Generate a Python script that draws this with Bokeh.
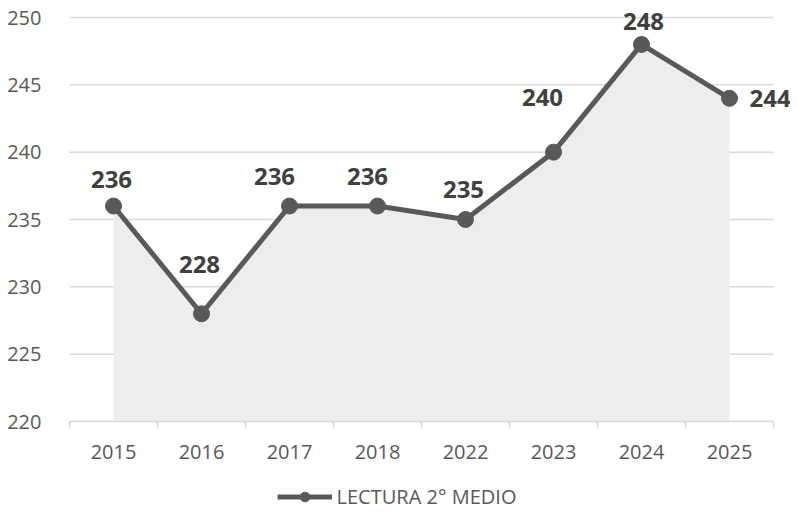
from bokeh.plotting import figure
from bokeh.layouts import column
from bokeh.models import FixedTicker, Legend, LegendItem, ColumnDataSource, Range1d, LabelSet
from bokeh.embed import file_html
from bokeh.resources import INLINE
from bokeh.core.properties import value

years = ["2015", "2016", "2017", "2018", "2022", "2023", "2024", "2025"]
scores = [236, 228, 236, 236, 235, 240, 248, 244]
series_name = "LECTURA 2° MEDIO"
y_ticks = [220, 225, 230, 235, 240, 245, 250]

# label placement (style only, screen pixels)
label_dx = [-2, -2, -15, -10, -2, -11, 2, 20]
label_dy = [27, 49, 30, 30, 30, 55, 23, 0]

FONT = "Open Sans"
GREY = "#595959"

n = len(years)
xs = list(range(n))
src = ColumnDataSource(dict(x=xs, y=scores))

PX_X = 88.0
PX_Y = 404.0 / 30.0
frame_w = 721
frame_h = 421
x_end = -0.5 + frame_w / PX_X
y_end = 250 + 17 / PX_Y

p = figure(frame_width=frame_w, frame_height=frame_h, output_backend="svg", toolbar_location=None,
           x_range=Range1d(-0.5, x_end), y_range=Range1d(220, y_end))
p.outline_line_color = None
p.min_border_left = 69
p.min_border_right = 0
p.min_border_top = 0
p.min_border_bottom = 58
p.background_fill_color = "white"
p.xgrid.visible = False
p.ygrid.visible = False

# horizontal gridlines across the category span
p.segment(x0=-0.5, x1=n - 0.5, y0=y_ticks, y1=y_ticks, line_color="#d9d9d9", line_width=1.5)

# area
p.varea(x="x", y1=220, y2="y", source=src, fill_color="#ededed")

line = p.line(x="x", y="y", source=src, line_color=GREY, line_width=5)
pts = p.scatter(x="x", y="y", source=src, size=16, fill_color=GREY, line_color=GREY)

# value labels
main = ColumnDataSource(dict(x=xs[:-1], y=scores[:-1], lab=[str(s) for s in scores[:-1]],
                             dx=label_dx[:-1], dy=label_dy[:-1]))
last = ColumnDataSource(dict(x=xs[-1:], y=scores[-1:], lab=[str(s) for s in scores[-1:]],
                             dx=label_dx[-1:], dy=label_dy[-1:]))
p.add_layout(LabelSet(x="x", y="y", text="lab", source=main, text_align="center",
                      text_baseline="middle", x_offset="dx", y_offset="dy", text_font=value(FONT),
                      text_font_style="bold", text_font_size="24px", text_color="#404040"))
p.add_layout(LabelSet(x="x", y="y", text="lab", source=last, text_align="left",
                      text_baseline="middle", x_offset="dx", y_offset="dy", text_font=value(FONT),
                      text_font_style="bold", text_font_size="24px", text_color="#404040"))

# y axis
p.yaxis.ticker = FixedTicker(ticks=y_ticks)
p.yaxis.axis_line_color = None
p.yaxis.major_tick_line_color = None
p.yaxis.minor_tick_line_color = None
p.yaxis.major_label_text_font = FONT
p.yaxis.major_label_text_font_size = "20px"
p.yaxis.major_label_text_color = GREY
p.yaxis.major_label_standoff = 22

# x axis
p.xaxis.bounds = (-0.5, n - 0.5)
p.xaxis.ticker = FixedTicker(ticks=xs, minor_ticks=[i - 0.5 for i in range(n + 1)])
p.xaxis.major_label_overrides = {i: y for i, y in enumerate(years)}
p.xaxis.axis_line_color = "#d9d9d9"
p.xaxis.axis_line_width = 1.5
p.xaxis.major_tick_line_color = None
p.xaxis.minor_tick_line_color = "#d9d9d9"
p.xaxis.minor_tick_line_width = 1.5
p.xaxis.minor_tick_in = 0
p.xaxis.minor_tick_out = 7
p.xaxis.major_label_text_font = FONT
p.xaxis.major_label_text_font_size = "20px"
p.xaxis.major_label_text_color = GREY
p.xaxis.major_label_standoff = 16

# legend in its own strip under the chart (key renderers sit outside the strip's visible range)
pl = figure(width=724, height=34, output_backend="svg", toolbar_location=None,
            x_axis_location=None, y_axis_location=None, min_border=0,
            x_range=Range1d(0, 1), y_range=Range1d(0, 1))
pl.outline_line_color = None
pl.xgrid.visible = False
pl.ygrid.visible = False
lg_line = pl.line(x=[5, 6], y=[5, 6], line_color=GREY, line_width=5)
lg_pts = pl.scatter(x=[5], y=[5], size=16, fill_color=GREY, line_color=GREY)
legend = Legend(items=[LegendItem(label=series_name, renderers=[lg_line, lg_pts])],
                orientation="horizontal", location="center",
                label_text_font=FONT, label_text_font_size="20px", label_text_color=GREY,
                glyph_width=55, glyph_height=24, label_standoff=5,
                border_line_color=None, background_fill_alpha=0,
                margin=0, padding=5)
pl.add_layout(legend, "center")

layout = column(p, pl, spacing=0)
open("out.html", "w").write(file_html(layout, INLINE))
